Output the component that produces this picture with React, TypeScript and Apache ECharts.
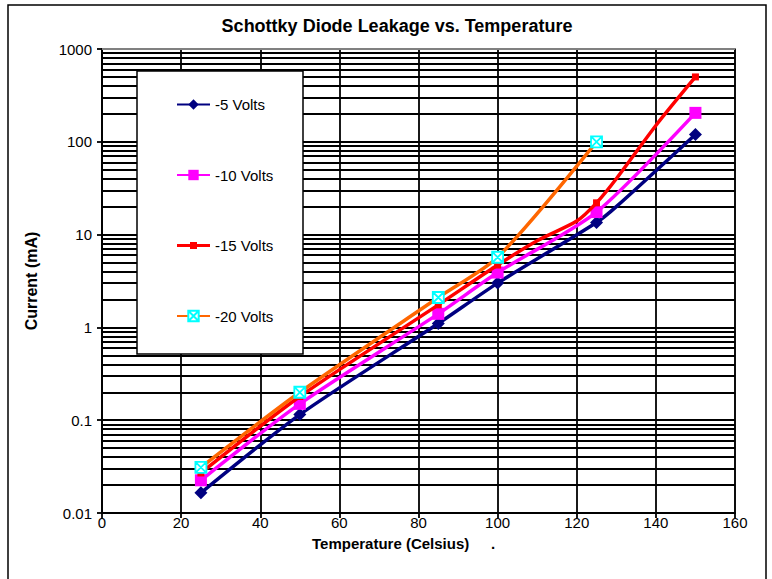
import React, { useEffect, useRef } from "react";
import * as echarts from "echarts";

const chartTitle = "Schottky Diode Leakage vs. Temperature";
const xAxisTitle = "Temperature (Celsius)";
const yAxisTitle = "Current (mA)";
const seriesNames = ["-5 Volts", "-10 Volts", "-15 Volts", "-20 Volts"];
const xTicks = [0, 20, 40, 60, 80, 100, 120, 140, 160];
const yTickLabels = ["0.01", "0.1", "1", "10", "100", "1000"];
const markerTemps = [25, 50, 85, 100, 125, 150];

const temps5 = [25, 50, 85, 100, 125, 130, 150];
const current5 = [0.0165, 0.115, 1.1, 3.0, 13.5, 20, 120];

const temps10 = [25, 50, 85, 100, 125, 150];
const current10 = [0.0225, 0.15, 1.4, 3.9, 17.5, 205];

const temps15 = [25, 50, 85, 100, 110, 120, 125, 130, 140, 150];
const current15 = [0.027, 0.18, 1.75, 4.7, 8.6, 14, 22, 40, 150, 500];

const temps20 = [25, 50, 85, 100, 125];
const current20 = [0.031, 0.2, 2.1, 5.7, 100];

const FONT = "'Liberation Sans', Arial, Helvetica, sans-serif";

function buildData(temps: number[], vals: number[]) {
  return temps.map((t, i) => {
    const item: any = { value: [t, vals[i]] };
    if (!markerTemps.includes(t)) {
      item.symbol = "none";
    }
    return item;
  });
}

function minorGridValues() {
  const out: number[] = [];
  for (let e = -2; e < 3; e++) {
    const base = Math.pow(10, e);
    for (let k = 2; k <= 9; k++) out.push(parseFloat((base * k).toPrecision(3)));
  }
  return out;
}

export default function App() {
  const ref = useRef<HTMLDivElement>(null);
  useEffect(() => {
    document.body.style.margin = "0";
    if (!ref.current) return;
    const chart = echarts.init(ref.current, null, { renderer: "svg" });

    const xMin = xTicks[0];
    const xMax = xTicks[xTicks.length - 1];
    const xInterval = xTicks[1] - xTicks[0];
    const gridW = 1.8;

    const option: any = {
      animation: false,
      backgroundColor: "#ffffff",
      textStyle: { fontFamily: FONT },
      title: {
        text: chartTitle,
        left: 392,
        top: 12,
        textAlign: "center",
        textStyle: { fontFamily: FONT, fontSize: 18, fontWeight: "bold", color: "#000" },
      },
      grid: {
        left: 102,
        right: 37,
        top: 49,
        bottom: 66,
        show: true,
        borderColor: "#808080",
        borderWidth: 2,
        backgroundColor: "#ffffff",
      },
      legend: {
        data: [
          { name: seriesNames[0] },
          { name: seriesNames[1] },
          {
            name: seriesNames[2],
            icon: "path://M0,5 L33,5 L33,8 L0,8 Z M13,3 L20,3 L20,10 L13,10 Z",
          },
          { name: seriesNames[3] },
        ],
        orient: "vertical",
        left: 176,
        top: 97,
        itemWidth: 33,
        itemHeight: 13,
        itemGap: 55.5,
        padding: 0,
        z: 10,
        textStyle: { fontFamily: FONT, fontSize: 15, lineHeight: 13, color: "#000" },
      },
      xAxis: {
        type: "value",
        min: xMin,
        max: xMax,
        interval: xInterval,
        axisLine: { show: true, onZero: false, lineStyle: { color: "#000", width: gridW } },
        axisTick: { show: true, length: 5, lineStyle: { color: "#000", width: gridW } },
        axisLabel: { fontFamily: FONT, fontSize: 15, color: "#000", margin: 2 },
        splitLine: { show: true, lineStyle: { color: "#000", width: gridW } },
      },
      yAxis: {
        type: "log",
        logBase: 10,
        min: 0.01,
        max: 1000,
        name: yAxisTitle,
        nameLocation: "middle",
        nameGap: 63,
        nameTextStyle: { fontFamily: FONT, fontSize: 16, fontWeight: "bold", color: "#000" },
        axisLine: { show: true, lineStyle: { color: "#000", width: gridW } },
        axisTick: { show: true, length: 5, lineStyle: { color: "#000", width: gridW } },
        axisLabel: {
          fontFamily: FONT,
          fontSize: 15,
          color: "#000",
          margin: 10,
          formatter: (v: number) => yTickLabels[Math.round(Math.log10(v)) + 2] ?? "",
        },
        splitLine: { show: true, lineStyle: { color: "#000", width: gridW } },
      },
      graphic: [
        {
          type: "rect",
          shape: { x: 8, y: 5, width: 758, height: 600 },
          style: { fill: "none", stroke: "#000", lineWidth: 1.5 },
          silent: true,
          z: 0,
        },
        {
          type: "line",
          shape: { x1: 102, y1: 49, x2: 735, y2: 49 },
          style: { stroke: "#808080", lineWidth: 2 },
          silent: true,
          z: 1,
        },
        {
          type: "rect",
          shape: { x: 137, y: 71, width: 166, height: 283 },
          style: { fill: "#ffffff", stroke: "#000", lineWidth: 1.5 },
          silent: true,
          z: 8,
        },
        {
          type: "text",
          x: 312,
          y: 543,
          style: {
            text: xAxisTitle,
            fontFamily: FONT,
            fontSize: 15,
            fontWeight: "bold",
            fill: "#000",
            align: "left",
            verticalAlign: "middle",
          },
          z: 5,
        },
        {
          type: "text",
          x: 493,
          y: 543,
          style: {
            text: ".",
            fontFamily: FONT,
            fontSize: 15,
            fontWeight: "bold",
            fill: "#000",
            align: "center",
            verticalAlign: "middle",
          },
          z: 5,
        },
      ],
      series: [
        {
          name: "__grid",
          type: "line",
          data: [],
          z: 1,
          silent: true,
          markLine: {
            silent: true,
            z: 1,
            symbol: ["none", "none"],
            label: { show: false },
            lineStyle: { color: "#000", width: gridW, type: "solid" },
            emphasis: { disabled: true },
            data: minorGridValues().map((v) => ({ yAxis: v })),
          },
        },
        {
          name: seriesNames[0],
          type: "line",
          data: buildData(temps5, current5),
          symbol: "diamond",
          symbolSize: 13,
          smooth: 0.25,
          z: 2,
          lineStyle: { color: "#000080", width: 3.5 },
          itemStyle: { color: "#000080" },
        },
        {
          name: seriesNames[1],
          type: "line",
          data: buildData(temps10, current10),
          symbol: "rect",
          symbolSize: 12,
          smooth: 0.25,
          z: 3,
          lineStyle: { color: "#FF00FF", width: 3.5 },
          itemStyle: { color: "#FF00FF" },
        },
        {
          name: seriesNames[2],
          type: "line",
          data: buildData(temps15, current15),
          symbol: "rect",
          symbolSize: 7,
          smooth: 0.25,
          z: 4,
          lineStyle: { color: "#FF0000", width: 3.5 },
          itemStyle: { color: "#FF0000" },
        },
        {
          name: seriesNames[3],
          type: "line",
          data: buildData(temps20, current20),
          symbol: "path://M0,0 L10,0 L10,10 L0,10 Z M0,0 L10,10 M10,0 L0,10",
          symbolSize: 11,
          smooth: 0.25,
          z: 4,
          lineStyle: { color: "#FF6600", width: 3.5 },
          itemStyle: { color: "#ffffff", borderColor: "#00FFFF", borderWidth: 1.8 },
        },
      ],
    };

    chart.setOption(option);
    return () => {
      chart.dispose();
    };
  }, []);

  return <div ref={ref} style={{ width: 772, height: 579 }} />;
}
